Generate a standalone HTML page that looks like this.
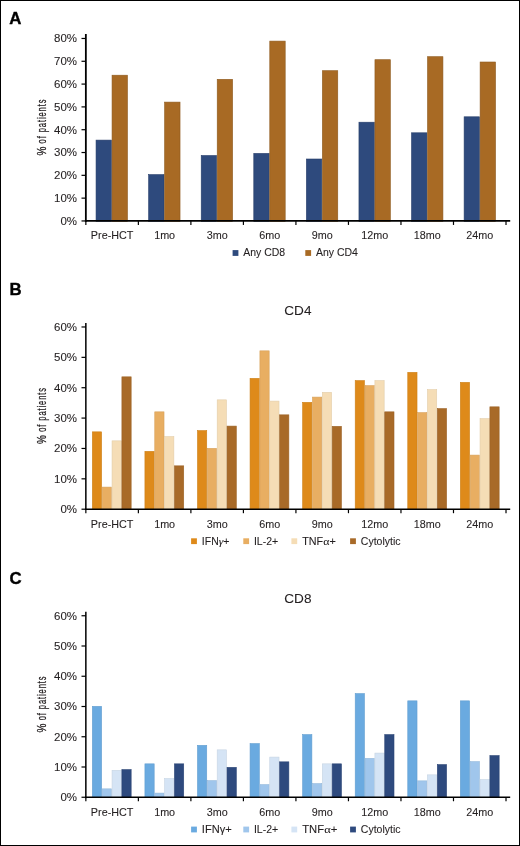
<!DOCTYPE html>
<html><head><meta charset="utf-8"><style>
html,body{margin:0;padding:0;background:#fff;}
body{width:520px;height:846px;overflow:hidden;}
svg{display:block;will-change:transform;font-family:"Liberation Sans", sans-serif;}
</style></head><body>
<svg width="520" height="846" viewBox="0 0 520 846">
<rect x="0" y="0" width="520" height="846" fill="#fff"/>
<text transform="translate(9.3,23.6) scale(1.05,1)" font-size="16" font-weight="bold" stroke="#000" stroke-width="0.35">A</text>
<rect x="96.05" y="140.10" width="15.40" height="81.15" fill="#2e4a7d" stroke="#273e6a" stroke-width="0.6"/>
<rect x="112.05" y="75.20" width="15.40" height="146.05" fill="#a86a24" stroke="#8e5a1e" stroke-width="0.6"/>
<rect x="148.63" y="174.60" width="15.40" height="46.65" fill="#2e4a7d" stroke="#273e6a" stroke-width="0.6"/>
<rect x="164.63" y="102.10" width="15.40" height="119.15" fill="#a86a24" stroke="#8e5a1e" stroke-width="0.6"/>
<rect x="201.21" y="155.50" width="15.40" height="65.75" fill="#2e4a7d" stroke="#273e6a" stroke-width="0.6"/>
<rect x="217.21" y="79.30" width="15.40" height="141.95" fill="#a86a24" stroke="#8e5a1e" stroke-width="0.6"/>
<rect x="253.79" y="153.40" width="15.40" height="67.85" fill="#2e4a7d" stroke="#273e6a" stroke-width="0.6"/>
<rect x="269.79" y="41.10" width="15.40" height="180.15" fill="#a86a24" stroke="#8e5a1e" stroke-width="0.6"/>
<rect x="306.37" y="159.00" width="15.40" height="62.25" fill="#2e4a7d" stroke="#273e6a" stroke-width="0.6"/>
<rect x="322.37" y="70.70" width="15.40" height="150.55" fill="#a86a24" stroke="#8e5a1e" stroke-width="0.6"/>
<rect x="358.95" y="122.20" width="15.40" height="99.05" fill="#2e4a7d" stroke="#273e6a" stroke-width="0.6"/>
<rect x="374.95" y="59.70" width="15.40" height="161.55" fill="#a86a24" stroke="#8e5a1e" stroke-width="0.6"/>
<rect x="411.53" y="132.80" width="15.40" height="88.45" fill="#2e4a7d" stroke="#273e6a" stroke-width="0.6"/>
<rect x="427.53" y="56.70" width="15.40" height="164.55" fill="#a86a24" stroke="#8e5a1e" stroke-width="0.6"/>
<rect x="464.11" y="116.80" width="15.40" height="104.45" fill="#2e4a7d" stroke="#273e6a" stroke-width="0.6"/>
<rect x="480.11" y="62.00" width="15.40" height="159.25" fill="#a86a24" stroke="#8e5a1e" stroke-width="0.6"/>
<line x1="85.85" y1="34" x2="85.85" y2="221.85" stroke="#000" stroke-width="1.8"/>
<line x1="84.94999999999999" y1="220.95" x2="510.2" y2="220.95" stroke="#000" stroke-width="1.8"/>
<line x1="81.5" y1="220.95" x2="85.85" y2="220.95" stroke="#000" stroke-width="1.2"/>
<text transform="translate(77,224.85) scale(1.15,1)" font-size="10.0" text-anchor="end" fill="#231f20" stroke="#231f20" stroke-width="0.08">0%</text>
<line x1="81.5" y1="198.14" x2="85.85" y2="198.14" stroke="#000" stroke-width="1.2"/>
<text transform="translate(77,202.04) scale(1.15,1)" font-size="10.0" text-anchor="end" fill="#231f20" stroke="#231f20" stroke-width="0.08">10%</text>
<line x1="81.5" y1="175.33" x2="85.85" y2="175.33" stroke="#000" stroke-width="1.2"/>
<text transform="translate(77,179.23) scale(1.15,1)" font-size="10.0" text-anchor="end" fill="#231f20" stroke="#231f20" stroke-width="0.08">20%</text>
<line x1="81.5" y1="152.52" x2="85.85" y2="152.52" stroke="#000" stroke-width="1.2"/>
<text transform="translate(77,156.42) scale(1.15,1)" font-size="10.0" text-anchor="end" fill="#231f20" stroke="#231f20" stroke-width="0.08">30%</text>
<line x1="81.5" y1="129.71" x2="85.85" y2="129.71" stroke="#000" stroke-width="1.2"/>
<text transform="translate(77,133.61) scale(1.15,1)" font-size="10.0" text-anchor="end" fill="#231f20" stroke="#231f20" stroke-width="0.08">40%</text>
<line x1="81.5" y1="106.90" x2="85.85" y2="106.90" stroke="#000" stroke-width="1.2"/>
<text transform="translate(77,110.80) scale(1.15,1)" font-size="10.0" text-anchor="end" fill="#231f20" stroke="#231f20" stroke-width="0.08">50%</text>
<line x1="81.5" y1="84.09" x2="85.85" y2="84.09" stroke="#000" stroke-width="1.2"/>
<text transform="translate(77,87.99) scale(1.15,1)" font-size="10.0" text-anchor="end" fill="#231f20" stroke="#231f20" stroke-width="0.08">60%</text>
<line x1="81.5" y1="61.28" x2="85.85" y2="61.28" stroke="#000" stroke-width="1.2"/>
<text transform="translate(77,65.18) scale(1.15,1)" font-size="10.0" text-anchor="end" fill="#231f20" stroke="#231f20" stroke-width="0.08">70%</text>
<line x1="81.5" y1="38.47" x2="85.85" y2="38.47" stroke="#000" stroke-width="1.2"/>
<text transform="translate(77,42.37) scale(1.15,1)" font-size="10.0" text-anchor="end" fill="#231f20" stroke="#231f20" stroke-width="0.08">80%</text>
<line x1="85.85" y1="220.95" x2="85.85" y2="224.95" stroke="#000" stroke-width="1.2"/>
<line x1="138.37" y1="220.95" x2="138.37" y2="224.95" stroke="#000" stroke-width="1.2"/>
<line x1="190.89" y1="220.95" x2="190.89" y2="224.95" stroke="#000" stroke-width="1.2"/>
<line x1="243.41" y1="220.95" x2="243.41" y2="224.95" stroke="#000" stroke-width="1.2"/>
<line x1="295.93" y1="220.95" x2="295.93" y2="224.95" stroke="#000" stroke-width="1.2"/>
<line x1="348.45" y1="220.95" x2="348.45" y2="224.95" stroke="#000" stroke-width="1.2"/>
<line x1="400.97" y1="220.95" x2="400.97" y2="224.95" stroke="#000" stroke-width="1.2"/>
<line x1="453.49" y1="220.95" x2="453.49" y2="224.95" stroke="#000" stroke-width="1.2"/>
<line x1="506.01" y1="220.95" x2="506.01" y2="224.95" stroke="#000" stroke-width="1.2"/>
<text transform="translate(112.11,239.30) scale(1.08,1)" font-size="10.0" text-anchor="middle" fill="#231f20" stroke="#231f20" stroke-width="0.08">Pre-HCT</text>
<text transform="translate(164.63,239.30) scale(1.08,1)" font-size="10.0" text-anchor="middle" fill="#231f20" stroke="#231f20" stroke-width="0.08">1mo</text>
<text transform="translate(217.15,239.30) scale(1.08,1)" font-size="10.0" text-anchor="middle" fill="#231f20" stroke="#231f20" stroke-width="0.08">3mo</text>
<text transform="translate(269.67,239.30) scale(1.08,1)" font-size="10.0" text-anchor="middle" fill="#231f20" stroke="#231f20" stroke-width="0.08">6mo</text>
<text transform="translate(322.19,239.30) scale(1.08,1)" font-size="10.0" text-anchor="middle" fill="#231f20" stroke="#231f20" stroke-width="0.08">9mo</text>
<text transform="translate(374.71,239.30) scale(1.08,1)" font-size="10.0" text-anchor="middle" fill="#231f20" stroke="#231f20" stroke-width="0.08">12mo</text>
<text transform="translate(427.23,239.30) scale(1.08,1)" font-size="10.0" text-anchor="middle" fill="#231f20" stroke="#231f20" stroke-width="0.08">18mo</text>
<text transform="translate(479.75,239.30) scale(1.08,1)" font-size="10.0" text-anchor="middle" fill="#231f20" stroke="#231f20" stroke-width="0.08">24mo</text>
<text transform="translate(45.6,155.50) rotate(-90) scale(0.74,1)" font-size="13.5" fill="#231f20" stroke="#231f20" stroke-width="0.3">%</text>
<text transform="translate(45.6,143.40) rotate(-90) scale(0.556,1)" font-size="13.5" letter-spacing="1.67" fill="#231f20" stroke="#231f20" stroke-width="0.3">of patients</text>
<rect x="232.6" y="250.1" width="5.8" height="5.8" fill="#2e4a7d"/>
<text transform="translate(243.2,256.45) scale(1.05,1)" font-size="10.0" fill="#231f20" stroke="#231f20" stroke-width="0.08">Any CD8</text>
<rect x="305.3" y="250.1" width="5.8" height="5.8" fill="#a86a24"/>
<text transform="translate(315.9,256.45) scale(1.05,1)" font-size="10.0" fill="#231f20" stroke="#231f20" stroke-width="0.08">Any CD4</text>
<text transform="translate(9.55,294.6) scale(1.05,1)" font-size="16" font-weight="bold" stroke="#000" stroke-width="0.35">B</text>
<text x="297.9" y="314.5" font-size="13.6" text-anchor="middle" fill="#231f20" stroke="#231f20" stroke-width="0.08">CD4</text>
<rect x="92.35" y="431.85" width="9.25" height="77.65" fill="#de8a1a" stroke="#ce8018" stroke-width="0.6"/>
<rect x="102.20" y="487.10" width="9.25" height="22.40" fill="#e8ae62" stroke="#d7a15b" stroke-width="0.6"/>
<rect x="112.05" y="440.85" width="9.25" height="68.65" fill="#f5ddb6" stroke="#e3cda9" stroke-width="0.6"/>
<rect x="121.90" y="376.85" width="9.25" height="132.65" fill="#a86a28" stroke="#9c6225" stroke-width="0.6"/>
<rect x="144.92" y="451.35" width="9.25" height="58.15" fill="#de8a1a" stroke="#ce8018" stroke-width="0.6"/>
<rect x="154.77" y="411.85" width="9.25" height="97.65" fill="#e8ae62" stroke="#d7a15b" stroke-width="0.6"/>
<rect x="164.62" y="436.60" width="9.25" height="72.90" fill="#f5ddb6" stroke="#e3cda9" stroke-width="0.6"/>
<rect x="174.47" y="465.85" width="9.25" height="43.65" fill="#a86a28" stroke="#9c6225" stroke-width="0.6"/>
<rect x="197.49" y="430.60" width="9.25" height="78.90" fill="#de8a1a" stroke="#ce8018" stroke-width="0.6"/>
<rect x="207.34" y="448.35" width="9.25" height="61.15" fill="#e8ae62" stroke="#d7a15b" stroke-width="0.6"/>
<rect x="217.19" y="399.85" width="9.25" height="109.65" fill="#f5ddb6" stroke="#e3cda9" stroke-width="0.6"/>
<rect x="227.04" y="426.10" width="9.25" height="83.40" fill="#a86a28" stroke="#9c6225" stroke-width="0.6"/>
<rect x="250.06" y="378.35" width="9.25" height="131.15" fill="#de8a1a" stroke="#ce8018" stroke-width="0.6"/>
<rect x="259.91" y="350.85" width="9.25" height="158.65" fill="#e8ae62" stroke="#d7a15b" stroke-width="0.6"/>
<rect x="269.76" y="401.10" width="9.25" height="108.40" fill="#f5ddb6" stroke="#e3cda9" stroke-width="0.6"/>
<rect x="279.61" y="414.85" width="9.25" height="94.65" fill="#a86a28" stroke="#9c6225" stroke-width="0.6"/>
<rect x="302.63" y="402.35" width="9.25" height="107.15" fill="#de8a1a" stroke="#ce8018" stroke-width="0.6"/>
<rect x="312.48" y="397.10" width="9.25" height="112.40" fill="#e8ae62" stroke="#d7a15b" stroke-width="0.6"/>
<rect x="322.33" y="392.35" width="9.25" height="117.15" fill="#f5ddb6" stroke="#e3cda9" stroke-width="0.6"/>
<rect x="332.18" y="426.35" width="9.25" height="83.15" fill="#a86a28" stroke="#9c6225" stroke-width="0.6"/>
<rect x="355.20" y="380.60" width="9.25" height="128.90" fill="#de8a1a" stroke="#ce8018" stroke-width="0.6"/>
<rect x="365.05" y="385.60" width="9.25" height="123.90" fill="#e8ae62" stroke="#d7a15b" stroke-width="0.6"/>
<rect x="374.90" y="380.60" width="9.25" height="128.90" fill="#f5ddb6" stroke="#e3cda9" stroke-width="0.6"/>
<rect x="384.75" y="411.85" width="9.25" height="97.65" fill="#a86a28" stroke="#9c6225" stroke-width="0.6"/>
<rect x="407.77" y="372.35" width="9.25" height="137.15" fill="#de8a1a" stroke="#ce8018" stroke-width="0.6"/>
<rect x="417.62" y="412.60" width="9.25" height="96.90" fill="#e8ae62" stroke="#d7a15b" stroke-width="0.6"/>
<rect x="427.47" y="389.60" width="9.25" height="119.90" fill="#f5ddb6" stroke="#e3cda9" stroke-width="0.6"/>
<rect x="437.32" y="408.60" width="9.25" height="100.90" fill="#a86a28" stroke="#9c6225" stroke-width="0.6"/>
<rect x="460.34" y="382.35" width="9.25" height="127.15" fill="#de8a1a" stroke="#ce8018" stroke-width="0.6"/>
<rect x="470.19" y="455.10" width="9.25" height="54.40" fill="#e8ae62" stroke="#d7a15b" stroke-width="0.6"/>
<rect x="480.04" y="418.60" width="9.25" height="90.90" fill="#f5ddb6" stroke="#e3cda9" stroke-width="0.6"/>
<rect x="489.89" y="406.85" width="9.25" height="102.65" fill="#a86a28" stroke="#9c6225" stroke-width="0.6"/>
<line x1="85.85" y1="323" x2="85.85" y2="510.09999999999997" stroke="#000" stroke-width="1.5"/>
<line x1="85.1" y1="509.2" x2="510.2" y2="509.2" stroke="#000" stroke-width="1.5"/>
<line x1="81.5" y1="509.20" x2="85.85" y2="509.20" stroke="#000" stroke-width="1.2"/>
<text transform="translate(77,513.10) scale(1.15,1)" font-size="10.0" text-anchor="end" fill="#231f20" stroke="#231f20" stroke-width="0.08">0%</text>
<line x1="81.5" y1="478.83" x2="85.85" y2="478.83" stroke="#000" stroke-width="1.2"/>
<text transform="translate(77,482.73) scale(1.15,1)" font-size="10.0" text-anchor="end" fill="#231f20" stroke="#231f20" stroke-width="0.08">10%</text>
<line x1="81.5" y1="448.46" x2="85.85" y2="448.46" stroke="#000" stroke-width="1.2"/>
<text transform="translate(77,452.36) scale(1.15,1)" font-size="10.0" text-anchor="end" fill="#231f20" stroke="#231f20" stroke-width="0.08">20%</text>
<line x1="81.5" y1="418.09" x2="85.85" y2="418.09" stroke="#000" stroke-width="1.2"/>
<text transform="translate(77,421.99) scale(1.15,1)" font-size="10.0" text-anchor="end" fill="#231f20" stroke="#231f20" stroke-width="0.08">30%</text>
<line x1="81.5" y1="387.72" x2="85.85" y2="387.72" stroke="#000" stroke-width="1.2"/>
<text transform="translate(77,391.62) scale(1.15,1)" font-size="10.0" text-anchor="end" fill="#231f20" stroke="#231f20" stroke-width="0.08">40%</text>
<line x1="81.5" y1="357.35" x2="85.85" y2="357.35" stroke="#000" stroke-width="1.2"/>
<text transform="translate(77,361.25) scale(1.15,1)" font-size="10.0" text-anchor="end" fill="#231f20" stroke="#231f20" stroke-width="0.08">50%</text>
<line x1="81.5" y1="326.98" x2="85.85" y2="326.98" stroke="#000" stroke-width="1.2"/>
<text transform="translate(77,330.88) scale(1.15,1)" font-size="10.0" text-anchor="end" fill="#231f20" stroke="#231f20" stroke-width="0.08">60%</text>
<line x1="85.85" y1="509.2" x2="85.85" y2="513.2" stroke="#000" stroke-width="1.2"/>
<line x1="138.37" y1="509.2" x2="138.37" y2="513.2" stroke="#000" stroke-width="1.2"/>
<line x1="190.89" y1="509.2" x2="190.89" y2="513.2" stroke="#000" stroke-width="1.2"/>
<line x1="243.41" y1="509.2" x2="243.41" y2="513.2" stroke="#000" stroke-width="1.2"/>
<line x1="295.93" y1="509.2" x2="295.93" y2="513.2" stroke="#000" stroke-width="1.2"/>
<line x1="348.45" y1="509.2" x2="348.45" y2="513.2" stroke="#000" stroke-width="1.2"/>
<line x1="400.97" y1="509.2" x2="400.97" y2="513.2" stroke="#000" stroke-width="1.2"/>
<line x1="453.49" y1="509.2" x2="453.49" y2="513.2" stroke="#000" stroke-width="1.2"/>
<line x1="506.01" y1="509.2" x2="506.01" y2="513.2" stroke="#000" stroke-width="1.2"/>
<text transform="translate(112.11,527.55) scale(1.08,1)" font-size="10.0" text-anchor="middle" fill="#231f20" stroke="#231f20" stroke-width="0.08">Pre-HCT</text>
<text transform="translate(164.63,527.55) scale(1.08,1)" font-size="10.0" text-anchor="middle" fill="#231f20" stroke="#231f20" stroke-width="0.08">1mo</text>
<text transform="translate(217.15,527.55) scale(1.08,1)" font-size="10.0" text-anchor="middle" fill="#231f20" stroke="#231f20" stroke-width="0.08">3mo</text>
<text transform="translate(269.67,527.55) scale(1.08,1)" font-size="10.0" text-anchor="middle" fill="#231f20" stroke="#231f20" stroke-width="0.08">6mo</text>
<text transform="translate(322.19,527.55) scale(1.08,1)" font-size="10.0" text-anchor="middle" fill="#231f20" stroke="#231f20" stroke-width="0.08">9mo</text>
<text transform="translate(374.71,527.55) scale(1.08,1)" font-size="10.0" text-anchor="middle" fill="#231f20" stroke="#231f20" stroke-width="0.08">12mo</text>
<text transform="translate(427.23,527.55) scale(1.08,1)" font-size="10.0" text-anchor="middle" fill="#231f20" stroke="#231f20" stroke-width="0.08">18mo</text>
<text transform="translate(479.75,527.55) scale(1.08,1)" font-size="10.0" text-anchor="middle" fill="#231f20" stroke="#231f20" stroke-width="0.08">24mo</text>
<text transform="translate(45.6,443.90) rotate(-90) scale(0.74,1)" font-size="13.5" fill="#231f20" stroke="#231f20" stroke-width="0.3">%</text>
<text transform="translate(45.6,431.80) rotate(-90) scale(0.556,1)" font-size="13.5" letter-spacing="1.67" fill="#231f20" stroke="#231f20" stroke-width="0.3">of patients</text>
<rect x="191.1" y="538.3" width="5.8" height="5.8" fill="#de8a1a"/>
<text transform="translate(201.8,544.65) scale(1.05,1)" font-size="10.0" fill="#231f20" stroke="#231f20" stroke-width="0.08">IFN<tspan font-family="Liberation Serif" font-style="italic" font-size="11">&#947;</tspan>+</text>
<rect x="243.3" y="538.3" width="5.8" height="5.8" fill="#e8ae62"/>
<text transform="translate(253.9,544.65) scale(1.05,1)" font-size="10.0" fill="#231f20" stroke="#231f20" stroke-width="0.08">IL-2+</text>
<rect x="291.4" y="538.3" width="5.8" height="5.8" fill="#f5ddb6"/>
<text transform="translate(302.2,544.65) scale(1.08,1)" font-size="10.0" fill="#231f20" stroke="#231f20" stroke-width="0.08">TNF<tspan font-family="Liberation Serif" font-size="11">&#945;</tspan>+</text>
<rect x="350.1" y="538.3" width="5.8" height="5.8" fill="#a86a28"/>
<text transform="translate(360.8,544.65) scale(1.05,1)" font-size="10.0" fill="#231f20" stroke="#231f20" stroke-width="0.08">Cytolytic</text>
<text transform="translate(9.4,584.2) scale(1.05,1)" font-size="16" font-weight="bold" stroke="#000" stroke-width="0.35">C</text>
<text x="297.9" y="603.4" font-size="13.6" text-anchor="middle" fill="#231f20" stroke="#231f20" stroke-width="0.08">CD8</text>
<rect x="92.35" y="706.35" width="9.25" height="91.20" fill="#6aaae0" stroke="#629ed0" stroke-width="0.6"/>
<rect x="102.20" y="788.85" width="9.25" height="8.70" fill="#a0c6ec" stroke="#94b8db" stroke-width="0.6"/>
<rect x="112.05" y="770.35" width="9.25" height="27.20" fill="#d5e4f5" stroke="#c6d4e3" stroke-width="0.6"/>
<rect x="121.90" y="769.60" width="9.25" height="27.95" fill="#2e4a7e" stroke="#2a4475" stroke-width="0.6"/>
<rect x="144.92" y="763.85" width="9.25" height="33.70" fill="#6aaae0" stroke="#629ed0" stroke-width="0.6"/>
<rect x="154.77" y="793.10" width="9.25" height="4.45" fill="#a0c6ec" stroke="#94b8db" stroke-width="0.6"/>
<rect x="164.62" y="778.60" width="9.25" height="18.95" fill="#d5e4f5" stroke="#c6d4e3" stroke-width="0.6"/>
<rect x="174.47" y="763.85" width="9.25" height="33.70" fill="#2e4a7e" stroke="#2a4475" stroke-width="0.6"/>
<rect x="197.49" y="745.35" width="9.25" height="52.20" fill="#6aaae0" stroke="#629ed0" stroke-width="0.6"/>
<rect x="207.34" y="780.60" width="9.25" height="16.95" fill="#a0c6ec" stroke="#94b8db" stroke-width="0.6"/>
<rect x="217.19" y="749.85" width="9.25" height="47.70" fill="#d5e4f5" stroke="#c6d4e3" stroke-width="0.6"/>
<rect x="227.04" y="767.35" width="9.25" height="30.20" fill="#2e4a7e" stroke="#2a4475" stroke-width="0.6"/>
<rect x="250.06" y="743.60" width="9.25" height="53.95" fill="#6aaae0" stroke="#629ed0" stroke-width="0.6"/>
<rect x="259.91" y="784.60" width="9.25" height="12.95" fill="#a0c6ec" stroke="#94b8db" stroke-width="0.6"/>
<rect x="269.76" y="757.10" width="9.25" height="40.45" fill="#d5e4f5" stroke="#c6d4e3" stroke-width="0.6"/>
<rect x="279.61" y="761.85" width="9.25" height="35.70" fill="#2e4a7e" stroke="#2a4475" stroke-width="0.6"/>
<rect x="302.63" y="734.60" width="9.25" height="62.95" fill="#6aaae0" stroke="#629ed0" stroke-width="0.6"/>
<rect x="312.48" y="783.60" width="9.25" height="13.95" fill="#a0c6ec" stroke="#94b8db" stroke-width="0.6"/>
<rect x="322.33" y="763.85" width="9.25" height="33.70" fill="#d5e4f5" stroke="#c6d4e3" stroke-width="0.6"/>
<rect x="332.18" y="763.85" width="9.25" height="33.70" fill="#2e4a7e" stroke="#2a4475" stroke-width="0.6"/>
<rect x="355.20" y="693.60" width="9.25" height="103.95" fill="#6aaae0" stroke="#629ed0" stroke-width="0.6"/>
<rect x="365.05" y="758.35" width="9.25" height="39.20" fill="#a0c6ec" stroke="#94b8db" stroke-width="0.6"/>
<rect x="374.90" y="753.10" width="9.25" height="44.45" fill="#d5e4f5" stroke="#c6d4e3" stroke-width="0.6"/>
<rect x="384.75" y="734.60" width="9.25" height="62.95" fill="#2e4a7e" stroke="#2a4475" stroke-width="0.6"/>
<rect x="407.77" y="700.85" width="9.25" height="96.70" fill="#6aaae0" stroke="#629ed0" stroke-width="0.6"/>
<rect x="417.62" y="780.85" width="9.25" height="16.70" fill="#a0c6ec" stroke="#94b8db" stroke-width="0.6"/>
<rect x="427.47" y="774.85" width="9.25" height="22.70" fill="#d5e4f5" stroke="#c6d4e3" stroke-width="0.6"/>
<rect x="437.32" y="764.60" width="9.25" height="32.95" fill="#2e4a7e" stroke="#2a4475" stroke-width="0.6"/>
<rect x="460.34" y="700.85" width="9.25" height="96.70" fill="#6aaae0" stroke="#629ed0" stroke-width="0.6"/>
<rect x="470.19" y="761.60" width="9.25" height="35.95" fill="#a0c6ec" stroke="#94b8db" stroke-width="0.6"/>
<rect x="480.04" y="779.60" width="9.25" height="17.95" fill="#d5e4f5" stroke="#c6d4e3" stroke-width="0.6"/>
<rect x="489.89" y="755.60" width="9.25" height="41.95" fill="#2e4a7e" stroke="#2a4475" stroke-width="0.6"/>
<line x1="85.85" y1="611.75" x2="85.85" y2="798.15" stroke="#000" stroke-width="1.5"/>
<line x1="85.1" y1="797.25" x2="510.2" y2="797.25" stroke="#000" stroke-width="1.5"/>
<line x1="81.5" y1="797.25" x2="85.85" y2="797.25" stroke="#000" stroke-width="1.2"/>
<text transform="translate(77,801.15) scale(1.15,1)" font-size="10.0" text-anchor="end" fill="#231f20" stroke="#231f20" stroke-width="0.08">0%</text>
<line x1="81.5" y1="767.00" x2="85.85" y2="767.00" stroke="#000" stroke-width="1.2"/>
<text transform="translate(77,770.90) scale(1.15,1)" font-size="10.0" text-anchor="end" fill="#231f20" stroke="#231f20" stroke-width="0.08">10%</text>
<line x1="81.5" y1="736.75" x2="85.85" y2="736.75" stroke="#000" stroke-width="1.2"/>
<text transform="translate(77,740.65) scale(1.15,1)" font-size="10.0" text-anchor="end" fill="#231f20" stroke="#231f20" stroke-width="0.08">20%</text>
<line x1="81.5" y1="706.50" x2="85.85" y2="706.50" stroke="#000" stroke-width="1.2"/>
<text transform="translate(77,710.40) scale(1.15,1)" font-size="10.0" text-anchor="end" fill="#231f20" stroke="#231f20" stroke-width="0.08">30%</text>
<line x1="81.5" y1="676.25" x2="85.85" y2="676.25" stroke="#000" stroke-width="1.2"/>
<text transform="translate(77,680.15) scale(1.15,1)" font-size="10.0" text-anchor="end" fill="#231f20" stroke="#231f20" stroke-width="0.08">40%</text>
<line x1="81.5" y1="646.00" x2="85.85" y2="646.00" stroke="#000" stroke-width="1.2"/>
<text transform="translate(77,649.90) scale(1.15,1)" font-size="10.0" text-anchor="end" fill="#231f20" stroke="#231f20" stroke-width="0.08">50%</text>
<line x1="81.5" y1="615.75" x2="85.85" y2="615.75" stroke="#000" stroke-width="1.2"/>
<text transform="translate(77,619.65) scale(1.15,1)" font-size="10.0" text-anchor="end" fill="#231f20" stroke="#231f20" stroke-width="0.08">60%</text>
<line x1="85.85" y1="797.25" x2="85.85" y2="801.25" stroke="#000" stroke-width="1.2"/>
<line x1="138.37" y1="797.25" x2="138.37" y2="801.25" stroke="#000" stroke-width="1.2"/>
<line x1="190.89" y1="797.25" x2="190.89" y2="801.25" stroke="#000" stroke-width="1.2"/>
<line x1="243.41" y1="797.25" x2="243.41" y2="801.25" stroke="#000" stroke-width="1.2"/>
<line x1="295.93" y1="797.25" x2="295.93" y2="801.25" stroke="#000" stroke-width="1.2"/>
<line x1="348.45" y1="797.25" x2="348.45" y2="801.25" stroke="#000" stroke-width="1.2"/>
<line x1="400.97" y1="797.25" x2="400.97" y2="801.25" stroke="#000" stroke-width="1.2"/>
<line x1="453.49" y1="797.25" x2="453.49" y2="801.25" stroke="#000" stroke-width="1.2"/>
<line x1="506.01" y1="797.25" x2="506.01" y2="801.25" stroke="#000" stroke-width="1.2"/>
<text transform="translate(112.11,815.60) scale(1.08,1)" font-size="10.0" text-anchor="middle" fill="#231f20" stroke="#231f20" stroke-width="0.08">Pre-HCT</text>
<text transform="translate(164.63,815.60) scale(1.08,1)" font-size="10.0" text-anchor="middle" fill="#231f20" stroke="#231f20" stroke-width="0.08">1mo</text>
<text transform="translate(217.15,815.60) scale(1.08,1)" font-size="10.0" text-anchor="middle" fill="#231f20" stroke="#231f20" stroke-width="0.08">3mo</text>
<text transform="translate(269.67,815.60) scale(1.08,1)" font-size="10.0" text-anchor="middle" fill="#231f20" stroke="#231f20" stroke-width="0.08">6mo</text>
<text transform="translate(322.19,815.60) scale(1.08,1)" font-size="10.0" text-anchor="middle" fill="#231f20" stroke="#231f20" stroke-width="0.08">9mo</text>
<text transform="translate(374.71,815.60) scale(1.08,1)" font-size="10.0" text-anchor="middle" fill="#231f20" stroke="#231f20" stroke-width="0.08">12mo</text>
<text transform="translate(427.23,815.60) scale(1.08,1)" font-size="10.0" text-anchor="middle" fill="#231f20" stroke="#231f20" stroke-width="0.08">18mo</text>
<text transform="translate(479.75,815.60) scale(1.08,1)" font-size="10.0" text-anchor="middle" fill="#231f20" stroke="#231f20" stroke-width="0.08">24mo</text>
<text transform="translate(45.6,732.40) rotate(-90) scale(0.74,1)" font-size="13.5" fill="#231f20" stroke="#231f20" stroke-width="0.3">%</text>
<text transform="translate(45.6,720.30) rotate(-90) scale(0.556,1)" font-size="13.5" letter-spacing="1.67" fill="#231f20" stroke="#231f20" stroke-width="0.3">of patients</text>
<rect x="191.1" y="826.6" width="5.8" height="5.8" fill="#6aaae0"/>
<text transform="translate(201.8,832.95) scale(1.11,1)" font-size="10.0" fill="#231f20" stroke="#231f20" stroke-width="0.08">IFN&#947;+</text>
<rect x="243.3" y="826.6" width="5.8" height="5.8" fill="#a0c6ec"/>
<text transform="translate(253.9,832.95) scale(1.05,1)" font-size="10.0" fill="#231f20" stroke="#231f20" stroke-width="0.08">IL-2+</text>
<rect x="291.4" y="826.6" width="5.8" height="5.8" fill="#d5e4f5"/>
<text transform="translate(302.2,832.95) scale(1.13,1)" font-size="10.0" fill="#231f20" stroke="#231f20" stroke-width="0.08">TNF<tspan font-family="Liberation Serif" font-size="11">&#945;</tspan>+</text>
<rect x="350.1" y="826.6" width="5.8" height="5.8" fill="#2e4a7e"/>
<text transform="translate(360.8,832.95) scale(1.05,1)" font-size="10.0" fill="#231f20" stroke="#231f20" stroke-width="0.08">Cytolytic</text>
<rect x="0.5" y="0.5" width="519" height="845" fill="none" stroke="#000" stroke-width="1"/>
</svg>
</body></html>
